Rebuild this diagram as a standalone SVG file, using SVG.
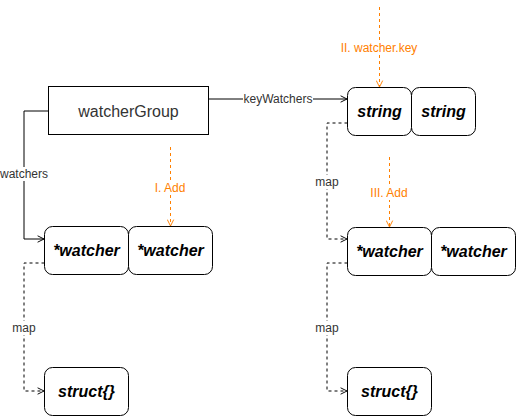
<svg xmlns="http://www.w3.org/2000/svg" width="516" height="416" viewBox="0 0 516 416">
<style>
.box{fill:#fff;stroke:#000;stroke-width:1}
.t{font-family:"Liberation Sans",Arial,sans-serif;font-size:16px;font-weight:bold;font-style:italic;fill:#000;text-anchor:middle}
.lbl{font-family:"Liberation Sans",Arial,sans-serif;font-size:12px;fill:#333;text-anchor:middle}
.olbl{font-family:"Liberation Sans",Arial,sans-serif;font-size:12px;fill:#FF8000;text-anchor:middle}
.c{fill:none;stroke:#000;stroke-width:1}
.d{stroke-dasharray:3 3}
.o{fill:none;stroke:#FF8000;stroke-width:1;stroke-dasharray:3 3}
</style>
<defs>
<marker id="a" viewBox="0 0 10 10" refX="9" refY="5" markerWidth="8" markerHeight="8" markerUnits="userSpaceOnUse" orient="auto"><path d="M1,1 L9,5 L1,9" fill="none" stroke="#000" stroke-width="1.2"/></marker>
<marker id="ao" viewBox="0 0 10 10" refX="9" refY="5" markerWidth="8" markerHeight="8" markerUnits="userSpaceOnUse" orient="auto"><path d="M1,1 L9,5 L1,9" fill="none" stroke="#FF8000" stroke-width="1.2"/></marker>
</defs>
<g id="connectors">
<path class="c" d="M48.5,111 H24 V239 H44" marker-end="url(#a)"/>
<path class="c" d="M208.5,99 H347" marker-end="url(#a)"/>
<path class="c d" d="M347.5,123 H327 V239 H347" marker-end="url(#a)"/>
<path class="c d" d="M44.5,263 H24 V391 H44" marker-end="url(#a)"/>
<path class="c d" d="M347.5,263 H327 V391 H347" marker-end="url(#a)"/>
<path class="o" d="M170.5,147 V226" marker-end="url(#ao)"/>
<path class="o" d="M379.5,7 V87" marker-end="url(#ao)"/>
<path class="o" d="M389.5,157 V227" marker-end="url(#ao)"/>
<rect x="0" y="167" width="49" height="14" fill="#fff"/>
<text class="lbl" x="24" y="178">watchers</text>
<rect x="243" y="92" width="70" height="14" fill="#fff"/>
<text class="lbl" x="278" y="103">keyWatchers</text>
<rect x="314" y="175" width="27" height="14" fill="#fff"/>
<text class="lbl" x="327" y="186">map</text>
<rect x="11" y="321" width="27" height="14" fill="#fff"/>
<text class="lbl" x="24" y="332">map</text>
<rect x="314" y="321" width="27" height="14" fill="#fff"/>
<text class="lbl" x="327" y="332">map</text>
<rect x="152" y="180" width="37" height="14" fill="#fff"/>
<text class="olbl" x="170" y="191.5">I. Add</text>
<rect x="339" y="40" width="81" height="14" fill="#fff"/>
<text class="olbl" x="379" y="51.5">II. watcher.key</text>
<rect x="366" y="186" width="46" height="14" fill="#fff"/>
<text class="olbl" x="389" y="197">III. Add</text>
</g>
<g id="watcherGroup">
<rect x="48.5" y="86.5" width="160" height="48" fill="#fff" stroke="#000"/>
<text x="128.5" y="116.5" font-family="Liberation Sans,Arial,sans-serif" font-size="16" fill="#333" text-anchor="middle">watcherGroup</text>
</g>
<g id="string1"><rect class="box" x="347.5" y="87.5" width="64" height="48" rx="8"/><text class="t" x="379.5" y="117">string</text></g>
<g id="string2"><rect class="box" x="411.5" y="87.5" width="64" height="48" rx="8"/><text class="t" x="443.5" y="117">string</text></g>
<g id="watcherL1"><rect class="box" x="44.5" y="226.5" width="84" height="48" rx="8"/><text class="t" x="86.5" y="256">*watcher</text></g>
<g id="watcherL2"><rect class="box" x="128.5" y="226.5" width="84" height="48" rx="8"/><text class="t" x="170.5" y="256">*watcher</text></g>
<g id="watcherR1"><rect class="box" x="347.5" y="227.5" width="84" height="48" rx="8"/><text class="t" x="389.5" y="257">*watcher</text></g>
<g id="watcherR2"><rect class="box" x="431.5" y="227.5" width="84" height="48" rx="8"/><text class="t" x="473.5" y="257">*watcher</text></g>
<g id="structL"><rect class="box" x="44.5" y="367.5" width="84" height="48" rx="8"/><text class="t" x="86.5" y="397">struct{}</text></g>
<g id="structR"><rect class="box" x="347.5" y="367.5" width="84" height="48" rx="8"/><text class="t" x="389.5" y="397">struct{}</text></g>
</svg>
